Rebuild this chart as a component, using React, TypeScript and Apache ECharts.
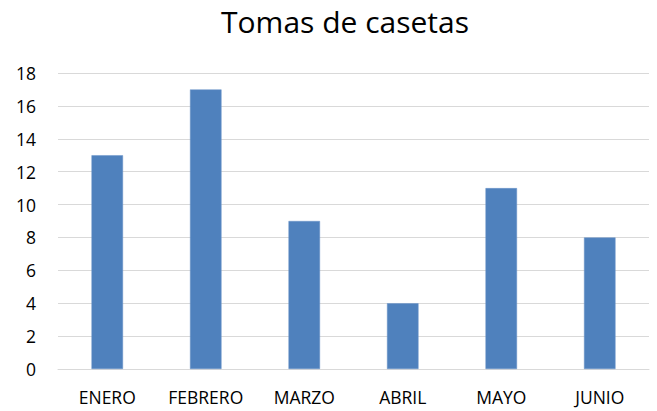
import React, { useEffect, useRef } from "react";
import * as echarts from "echarts";

const categories = ["ENERO", "FEBRERO", "MARZO", "ABRIL", "MAYO", "JUNIO"];
const values = [13, 17, 9, 4, 11, 8];
const yTicks = { min: 0, max: 18, interval: 2 };

export default function App() {
  const ref = useRef<HTMLDivElement>(null);
  useEffect(() => {
    if (!ref.current) return;
    const chart = echarts.init(ref.current, undefined, { renderer: "svg" });
    const font = "Open Sans";
    chart.setOption({
      animation: false,
      backgroundColor: "#ffffff",
      title: {
        text: "Tomas de casetas",
        left: 340,
        top: 1,
        textAlign: "center",
        textStyle: { fontFamily: font, fontSize: 30, fontWeight: "normal", color: "#000000" },
      },
      grid: { left: 58, right: 8, top: 73, bottom: 42, containLabel: false },
      xAxis: {
        type: "category",
        data: categories,
        axisTick: { show: false },
        axisLine: { show: true, lineStyle: { color: "#d9d9d9", width: 1 } },
        axisLabel: { fontFamily: font, fontSize: 17.5, color: "#000000", margin: 19, interval: 0 },
      },
      yAxis: {
        type: "value",
        min: yTicks.min,
        max: yTicks.max,
        interval: yTicks.interval,
        axisLine: { show: false },
        axisTick: { show: false },
        splitLine: { lineStyle: { color: "#d9d9d9", width: 1 } },
        axisLabel: { fontFamily: font, fontSize: 17.5, color: "#000000", margin: 22 },
      },
      series: [
        {
          type: "bar",
          data: values,
          barWidth: "32%",
          itemStyle: { color: "#4f81bd", borderColor: "#6a95c9", borderWidth: 0.5 },
        },
      ],
    });
    return () => chart.dispose();
  }, []);
  return (
    <div
      ref={ref}
      style={{ position: "fixed", left: 0, top: 0, width: 657, height: 411 }}
    />
  );
}
